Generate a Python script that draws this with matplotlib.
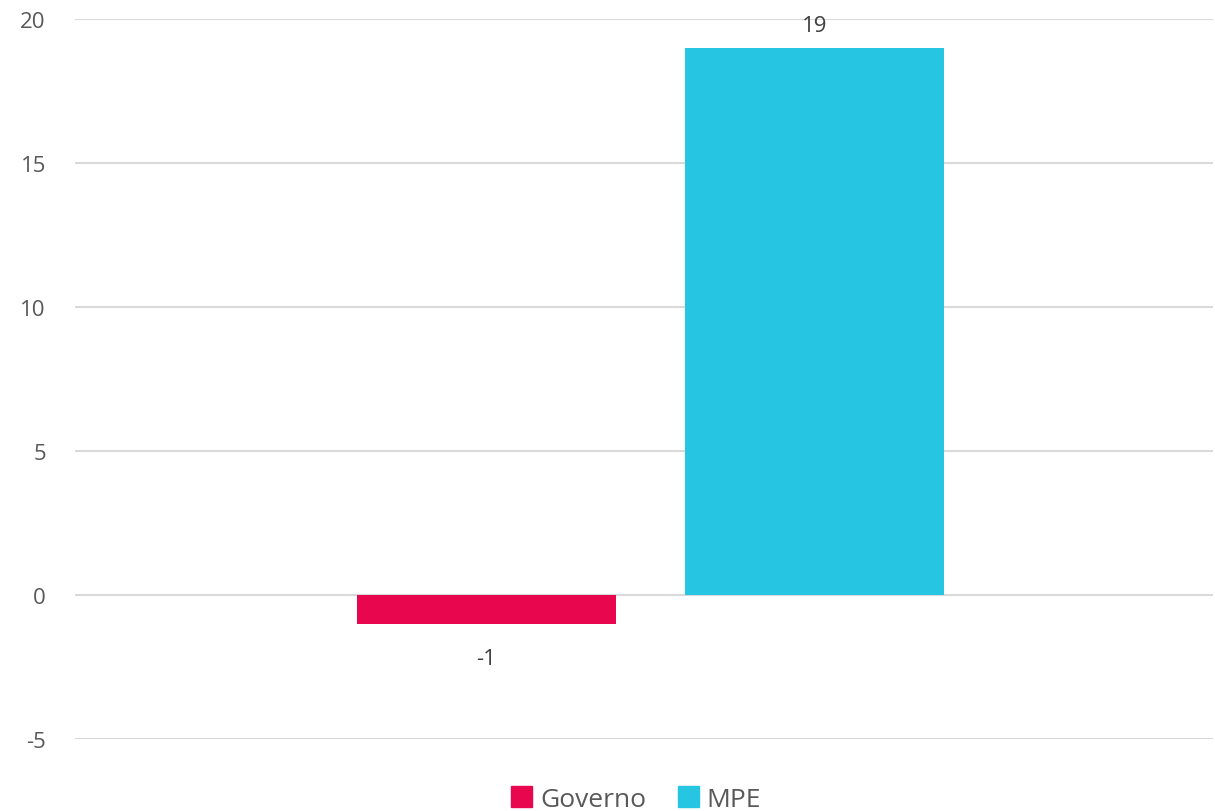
import matplotlib
matplotlib.use("Agg")
import matplotlib.pyplot as plt
from matplotlib.patches import Patch

plt.rcParams['font.family'] = ['Open Sans', 'DejaVu Sans']

series = ["Governo", "MPE"]
values = [-1, 19]
colors = ["#E8064F", "#26C6E3"]
yticks = [-5, 0, 5, 10, 15, 20]

fig = plt.figure(figsize=(12.15, 8.12), dpi=100)
ax = fig.add_axes([75/1215, 1 - 740/812, (1213 - 75)/1215, 720/812])

xpos = [0, 1]
bars = ax.bar(xpos, values, width=0.79, color=colors, zorder=3)

for x, v in zip(xpos, values):
    if v >= 0:
        ax.text(x, v + 0.4, str(v), ha="center", va="bottom", fontsize=16, color="#404040")
    else:
        ax.text(x, v - 0.85, str(v), ha="center", va="top", fontsize=16, color="#404040")

ax.set_xlim(-1.2546, 2.215)
ax.set_ylim(-5, 20)
ax.set_yticks(yticks)
ax.set_yticklabels([str(t) for t in yticks], fontsize=16, color="#595959")
ax.set_xticks([])
ax.tick_params(axis="y", length=0, pad=21)
ax.grid(axis="y", color="#D9D9D9", linewidth=1.5, zorder=0)
for s in ax.spines.values():
    s.set_visible(False)

handles = [Patch(color=c, label=s) for s, c in zip(series, colors)]
fig.legend(handles=handles, loc="center", bbox_to_anchor=(636/1215, 1 - 800/812),
           ncol=2, frameon=False, fontsize=19, handlelength=0.8, handleheight=0.8,
           handletextpad=0.3, columnspacing=1.2, labelcolor="#595959")

fig.savefig("out.png", dpi=100)
